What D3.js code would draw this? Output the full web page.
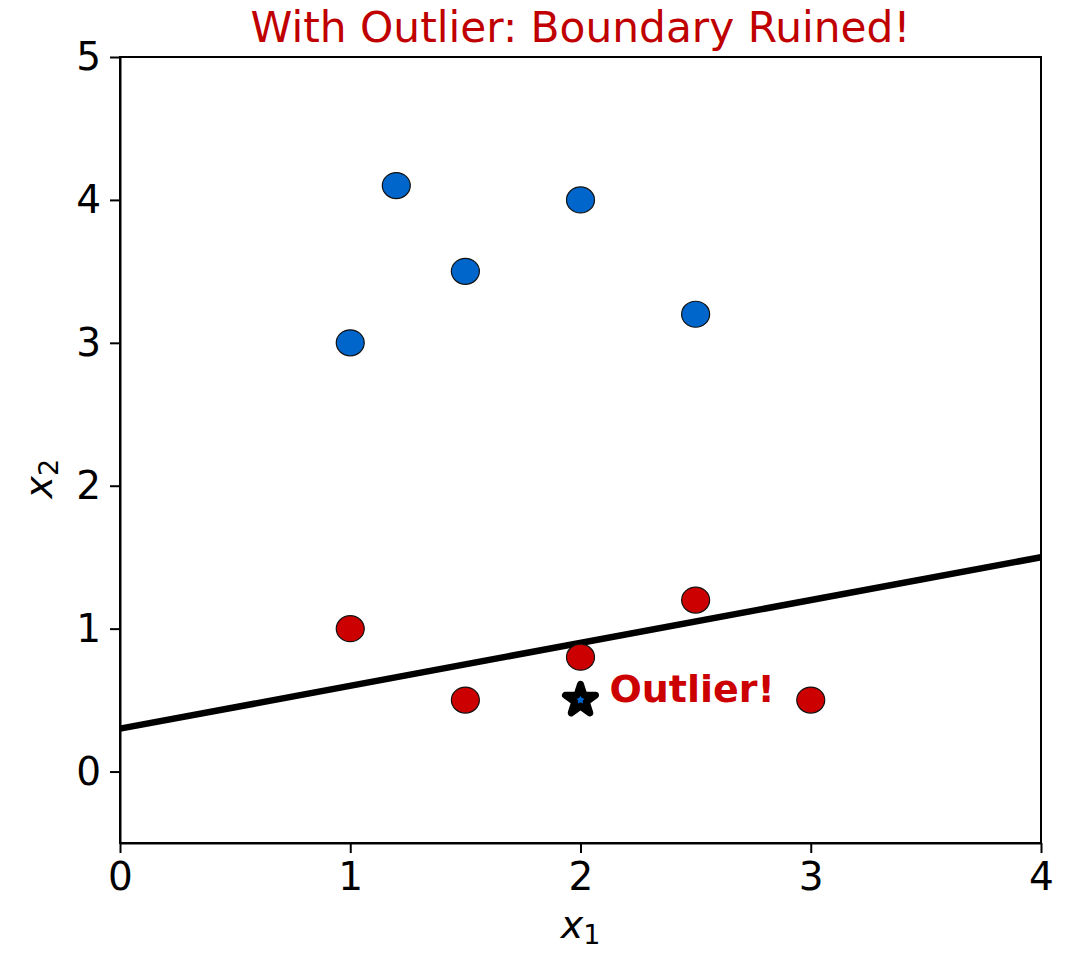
<!DOCTYPE html>
<html>
<head>
<meta charset="utf-8">
<script src="https://cdn.jsdelivr.net/npm/d3@7"></script>
<style>
  body { margin: 0; background: #fff; }
  text { font-family: "DejaVu Sans", sans-serif; }
</style>
</head>
<body>
<div id="chart"></div>
<script>
// data
const blueX = [1, 1.2, 1.5, 2, 2.5];
const blueY = [3, 4.1, 3.5, 4, 3.2];
const redX = [1, 1.5, 2, 2.5, 3];
const redY = [1, 0.5, 0.8, 1.2, 0.5];
const outlier = [2, 0.5];
const boundaryX = [0, 4];
const boundaryY = [0.3, 1.5];
const xTicks = [0, 1, 2, 3, 4];
const yTicks = [0, 1, 2, 3, 4, 5];

const W = 1076, H = 954;
const margin = { top: 57, right: 35, bottom: 111, left: 120 };
const width = W - margin.left - margin.right,
      height = H - margin.top - margin.bottom;

const svg = d3.select("#chart").append("svg")
    .attr("width", W).attr("height", H);
const g = svg.append("g")
    .attr("transform", `translate(${margin.left}, ${margin.top})`);

const x = d3.scaleLinear().domain([0, 4]).range([0, width]);
const y = d3.scaleLinear().domain([-0.5, 5]).range([height, 0]);

const blue = "#0066cc", red = "#cc0000";

// boundary line
const line = d3.line().x(d => x(d[0])).y(d => y(d[1]));
g.append("path")
    .datum(boundaryX.map((v, i) => [v, boundaryY[i]]))
    .attr("d", line)
    .attr("fill", "none")
    .attr("stroke", "#000")
    .attr("stroke-width", 6.5);

// points
function dots(xs, ys, col) {
    g.selectAll(null)
        .data(xs.map((v, i) => [v, ys[i]]))
        .join("ellipse")
        .attr("cx", d => x(d[0]))
        .attr("cy", d => y(d[1]))
        .attr("rx", 14)
        .attr("ry", 13)
        .attr("fill", col)
        .attr("stroke", "#111")
        .attr("stroke-width", 1.2);
}
dots(blueX, blueY, blue);
dots(redX, redY, red);

// outlier star
g.append("path")
    .attr("d", d3.symbol(d3.symbolStar, 280)())
    .attr("transform", `translate(${x(outlier[0])}, ${y(outlier[1])})`)
    .attr("fill", blue)
    .attr("stroke", "#000")
    .attr("stroke-width", 7)
    .attr("stroke-linejoin", "round");

g.append("text")
    .attr("x", x(outlier[0]) + 29)
    .attr("y", y(outlier[1]) + 2)
    .attr("font-size", 38)
    .attr("font-weight", "bold")
    .attr("fill", red)
    .text("Outlier!");

// axes
const xAxis = g.append("g")
    .attr("transform", `translate(0, ${height})`)
    .call(d3.axisBottom(x).tickValues(xTicks).tickFormat(d3.format("d")).tickSize(10).tickSizeOuter(0).tickPadding(9));
const yAxis = g.append("g")
    .call(d3.axisLeft(y).tickValues(yTicks).tickFormat(d3.format("d")).tickSize(10).tickSizeOuter(0).tickPadding(9));
// frame
g.append("rect")
    .attr("width", width).attr("height", height)
    .attr("fill", "none").attr("stroke", "#000").attr("stroke-width", 2);

[xAxis, yAxis].forEach(a => {
    a.select(".domain").attr("stroke-width", 2);
    a.selectAll(".tick line").attr("stroke-width", 2);
    a.selectAll(".tick text").attr("font-size", 39).attr("fill", "#000")
        .style("font-family", "DejaVu Sans");
});

// axis labels
const xl = svg.append("text")
    .attr("x", margin.left + width / 2)
    .attr("y", 938)
    .attr("text-anchor", "middle")
    .attr("font-size", 38);
xl.append("tspan").attr("font-style", "italic").text("x");
xl.append("tspan").attr("font-size", 27).attr("dy", 6).text("1");

const yl = svg.append("text")
    .attr("transform", `translate(52, ${margin.top + y(2.05)}) rotate(-90)`)
    .attr("text-anchor", "middle")
    .attr("font-size", 38);
yl.append("tspan").attr("font-style", "italic").text("x");
yl.append("tspan").attr("font-size", 27).attr("dy", 6).text("2");

// title
svg.append("text")
    .attr("x", margin.left + width / 2)
    .attr("y", 42)
    .attr("text-anchor", "middle")
    .attr("font-size", 42.3)
    .attr("fill", "#c00000")
    .text("With Outlier: Boundary Ruined!");
</script>
</body>
</html>
